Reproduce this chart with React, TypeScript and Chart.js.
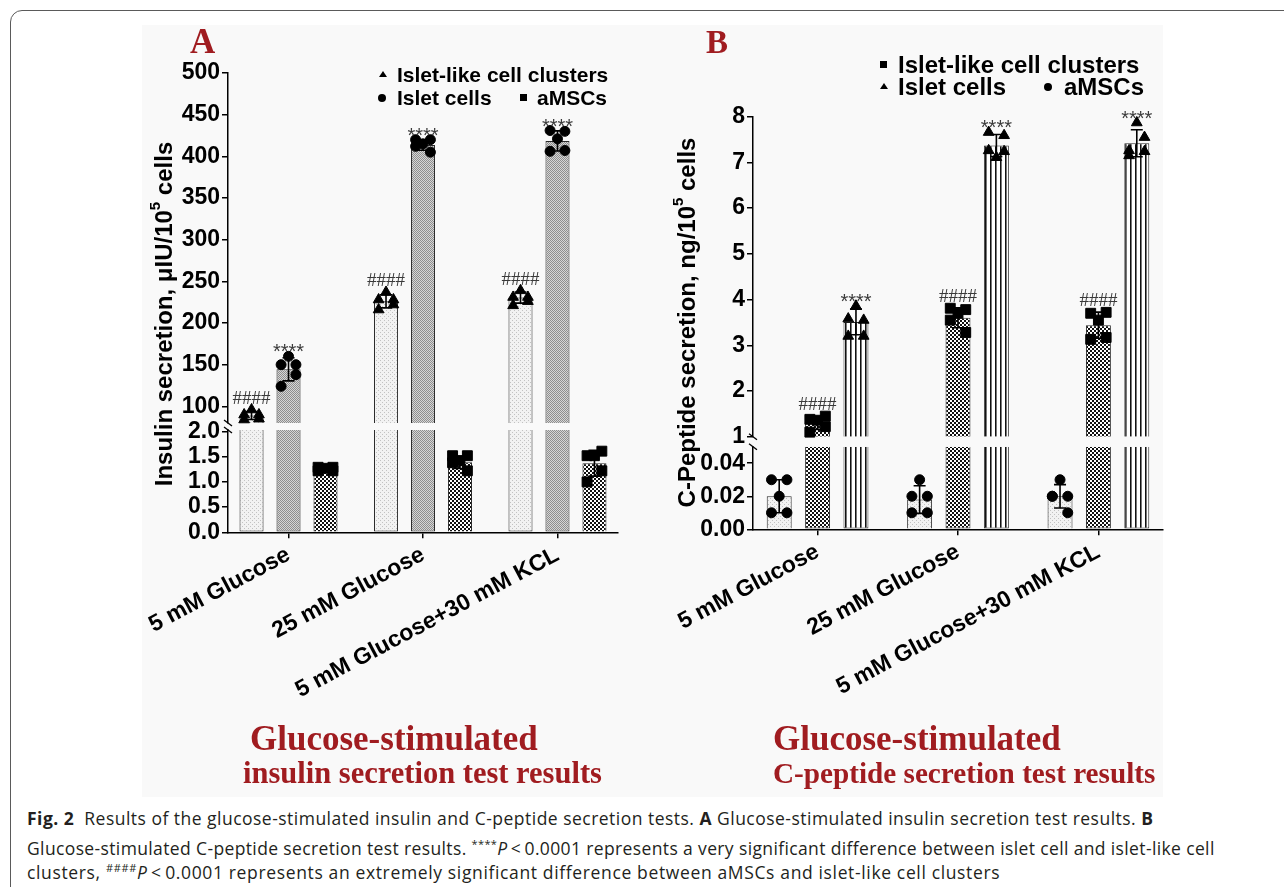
import React, { useEffect, useRef } from 'react';
import { Chart, registerables } from 'chart.js';

Chart.register(...registerables);

const SANS = '"Liberation Sans", Arial, sans-serif';
const SERIF = '"Liberation Serif", "Times New Roman", serif';
const RED = '#a01c20';
Chart.defaults.font.family = SANS;
Chart.defaults.color = '#000';

// ---------------- shared ----------------
const CATEGORIES = ['5 mM Glucose', '25 mM Glucose', '5 mM Glucose+30 mM KCL'];

// ---------------- Panel A: insulin secretion (μIU/10^5 cells) ----------------
const A_ISLET_LIKE_MEAN = [89, 226, 230.5];
const A_ISLET_LIKE_PTS = [
  [90, 90, 96, 84, 85],
  [228, 228, 237, 216, 222],
  [231, 231, 239, 221, 226],
];
const A_ISLET_MEAN = [144.4, 413.5, 418.5];
const A_ISLET_PTS = [
  [150, 150, 160, 124, 138],
  [420, 420, 415, 412, 405],
  [431, 430, 421, 406, 407],
];
const A_AMSC_MEAN = [1.26, 1.39, 1.37];
const A_AMSC_PTS = [
  [1.29, 1.29, 1.27, 1.22, 1.22],
  [1.52, 1.52, 1.42, 1.38, 1.22],
  [1.52, 1.61, 1.52, 1.0, 1.22],
];
const A_HI_RANGE = [80, 500];
const A_LO_RANGE = [0, 2.03];
const A_HI_TICKS = [100, 150, 200, 250, 300, 350, 400, 450, 500];
const A_LO_TICKS = [0, 0.5, 1.0, 1.5, 2.0];

// ---------------- Panel B: C-peptide secretion (ng/10^5 cells) ----------------
const B_AMSC_MEAN = [0.02, 0.018, 0.02];
const B_AMSC_PTS = [
  [0.03, 0.03, 0.02, 0.01, 0.01],
  [0.02, 0.02, 0.03, 0.01, 0.01],
  [0.02, 0.02, 0.03, 0.02, 0.01],
];
const B_ISLET_LIKE_MEAN = [1.3, 3.6, 3.44];
const B_ISLET_LIKE_PTS = [
  [1.38, 1.45, 1.36, 1.1, 1.22],
  [3.81, 3.78, 3.7, 3.55, 3.28],
  [3.7, 3.72, 3.55, 3.13, 3.17],
];
const B_ISLET_MEAN = [3.51, 7.37, 7.42];
const B_ISLET_PTS = [
  [3.58, 3.55, 3.86, 3.2, 3.2],
  [7.66, 7.59, 7.11, 7.26, 7.24],
  [7.26, 7.24, 7.87, 7.15, 7.55],
];
const B_HI_RANGE = [1, 8];
const B_LO_RANGE = [0, 0.05];
const B_HI_TICKS = [1, 2, 3, 4, 5, 6, 7, 8];
const B_LO_TICKS = [0, 0.02, 0.04];

// horizontal spread pattern of replicate dots (style)
const JITTER = [-1, 1, 0, -1, 1];

type Series = {
  name: string;
  means: number[];
  pts: number[][];
  pattern: string;
  marker: string;
  mark: string;
};

type Layout = {
  W: number; H: number; padL: number; padT: number; padR: number;
  yW: number; xH: number; hiW: number; gapW: number; loW: number;
  xMin: number; xMax: number; catPct: number; barPct: number;
  titleX: number; titleY: number; spread: number; cap: number;
};

type PanelCfg = {
  series: Series[];
  hiRange: number[]; loRange: number[];
  hiTicks: number[]; loTicks: number[]; loDecimals: number;
  titlePre: string; titleSup: string; titlePost: string;
  layout: Layout;
};

const PANEL_A: PanelCfg = {
  series: [
    { name: 'Islet-like cell clusters', means: A_ISLET_LIKE_MEAN, pts: A_ISLET_LIKE_PTS, pattern: 'dots', marker: 'triangle', mark: '####' },
    { name: 'Islet cells', means: A_ISLET_MEAN, pts: A_ISLET_PTS, pattern: 'mesh', marker: 'circle', mark: '****' },
    { name: 'aMSCs', means: A_AMSC_MEAN, pts: A_AMSC_PTS, pattern: 'checker', marker: 'rect', mark: '' },
  ],
  hiRange: A_HI_RANGE, loRange: A_LO_RANGE, hiTicks: A_HI_TICKS, loTicks: A_LO_TICKS, loDecimals: 1,
  titlePre: 'Insulin secretion, \u03bcIU/10', titleSup: '5', titlePost: ' cells',
  layout: {
    W: 500, H: 700, padL: 28, padT: 33, padR: 22, yW: 60, xH: 207.7,
    hiW: 350, gapW: 7, loW: 102.3, xMin: -0.45, xMax: 2.45, catPct: 0.825, barPct: 0.65,
    titleX: 25, titleY: 274, spread: 0.055, cap: 6,
  },
};

const PANEL_B: PanelCfg = {
  series: [
    { name: 'aMSCs', means: B_AMSC_MEAN, pts: B_AMSC_PTS, pattern: 'dots', marker: 'circle', mark: '' },
    { name: 'Islet-like cell clusters', means: B_ISLET_LIKE_MEAN, pts: B_ISLET_LIKE_PTS, pattern: 'checker', marker: 'rect', mark: '####' },
    { name: 'Islet cells', means: B_ISLET_MEAN, pts: B_ISLET_PTS, pattern: 'stripes', marker: 'triangle', mark: '****' },
  ],
  hiRange: B_HI_RANGE, loRange: B_LO_RANGE, hiTicks: B_HI_TICKS, loTicks: B_LO_TICKS, loDecimals: 2,
  titlePre: 'C-Peptide secretion, ng/10', titleSup: '5', titlePost: ' cells',
  layout: {
    W: 520, H: 700, padL: 33, padT: 76.7, padR: 17, yW: 60, xH: 210.7,
    hiW: 320, gapW: 10, loW: 82.6, xMin: -0.46, xMax: 2.46, catPct: 0.82, barPct: 0.65,
    titleX: 28, titleY: 282.5, spread: 0.055, cap: 6,
  },
};

function makePattern(kind: string): any {
  const c = document.createElement('canvas');
  let w = 4, h = 4;
  if (kind === 'stripes') { w = 5; h = 1; }
  if (kind === 'mesh') { w = 2; h = 2; }
  c.width = w; c.height = h;
  const g = c.getContext('2d') as CanvasRenderingContext2D;
  if (kind === 'dots') {
    g.fillStyle = '#f2f2f2'; g.fillRect(0, 0, 4, 4);
    g.fillStyle = '#c2c2c2'; g.fillRect(0, 0, 1, 1); g.fillRect(2, 2, 1, 1);
  } else if (kind === 'mesh') {
    g.fillStyle = '#d6d6d6'; g.fillRect(0, 0, 2, 2);
    g.fillStyle = '#8e8e8e'; g.fillRect(0, 0, 1, 1); g.fillRect(1, 1, 1, 1);
  } else if (kind === 'checker') {
    g.fillStyle = '#ffffff'; g.fillRect(0, 0, 4, 4);
    g.fillStyle = '#111111'; g.fillRect(0, 0, 2, 2); g.fillRect(2, 2, 2, 2);
  } else {
    g.fillStyle = '#ffffff'; g.fillRect(0, 0, 5, 1);
    g.fillStyle = '#111111'; g.fillRect(0, 0, 1, 1);
    g.fillStyle = '#777777'; g.fillRect(1, 0, 1, 1);
  }
  return g.createPattern(c, 'repeat');
}

function sampleSD(a: number[]): number {
  const m = a.reduce((s, v) => s + v, 0) / a.length;
  return Math.sqrt(a.reduce((s, v) => s + (v - m) * (v - m), 0) / (a.length - 1));
}

const MARKER_R: Record<string, number> = { circle: 5, triangle: 6.2, rect: 7 };

function Panel({ cfg, left, top }: { cfg: PanelCfg; left: number; top: number }) {
  const ref = useRef<HTMLCanvasElement>(null);
  const L = cfg.layout;
  useEffect(() => {
    const loMax = cfg.loRange[1];
    const hiMin = cfg.hiRange[0];
    const slot = (k: number) => ((k - 1) * L.catPct) / 3;
    const datasets: any[] = [];

    // replicate points (drawn on top: lower dataset index draws last)
    cfg.series.forEach((s, k) => {
      const hi: any[] = [];
      const lo: any[] = [];
      s.pts.forEach((arr, i) =>
        arr.forEach((v, j) => {
          const p = { x: i + slot(k) + JITTER[j % JITTER.length] * L.spread, y: v };
          (v > loMax ? hi : lo).push(p);
        })
      );
      const pairs: [any[], string][] = [[hi, 'yHi'], [lo, 'yLo']];
      pairs.forEach(([data, axis]) => {
        if (!data.length) return;
        datasets.push({
          type: 'scatter', label: s.name, data, xAxisID: 'x', yAxisID: axis,
          pointStyle: s.marker, pointRadius: MARKER_R[s.marker], pointHoverRadius: MARKER_R[s.marker],
          backgroundColor: '#000', borderColor: '#000', borderWidth: 1, showLine: false, clip: false,
        });
      });
    });

    // bars: lower segment + upper (floating) segment
    cfg.series.forEach((s, k) => {
      const bg = makePattern(s.pattern);
      const common = {
        type: 'bar', label: s.name, stack: 's' + k, xAxisID: 'x',
        backgroundColor: bg, borderColor: '#2a2a2a', borderWidth: 1,
        categoryPercentage: L.catPct, barPercentage: L.barPct,
      };
      datasets.push({
        ...common, yAxisID: 'yLo',
        data: s.means.map((m, i) => ({ x: i, y: Math.min(m, loMax) })),
        borderSkipped: s.means.map((m) => (m > loMax ? 'end' : 'start')),
      });
      datasets.push({
        ...common, yAxisID: 'yHi',
        data: s.means.map((m, i) => ({ x: i, y: m > hiMin ? [hiMin, m] : null })),
        borderSkipped: 'start',
      });
    });

    const scaleFor = (chart: any, v: number) => (v > loMax ? chart.scales.yHi : chart.scales.yLo);
    let errDone = false;
    const overlay = {
      id: 'overlay',
      beforeDatasetsDraw() { errDone = false; },
      beforeDatasetDraw(chart: any, args: any) {
        if (errDone || args.meta.type !== 'scatter') return;
        errDone = true;
        const ctx = chart.ctx;
        const xs = chart.scales.x;
        ctx.save();
        ctx.strokeStyle = '#000';
        ctx.lineWidth = 1.6;
        cfg.series.forEach((s, k) =>
          s.means.forEach((m, i) => {
            const d = sampleSD(s.pts[i]);
            const x = xs.getPixelForValue(i + slot(k));
            const sc = scaleFor(chart, m);
            const yt = sc.getPixelForValue(m + d);
            const yb = sc.getPixelForValue(m - d);
            ctx.beginPath();
            ctx.moveTo(x, yt); ctx.lineTo(x, yb);
            ctx.moveTo(x - L.cap, yt); ctx.lineTo(x + L.cap, yt);
            ctx.moveTo(x - L.cap, yb); ctx.lineTo(x + L.cap, yb);
            ctx.stroke();
          })
        );
        ctx.restore();
      },
      afterDatasetsDraw(chart: any) {
        const ctx = chart.ctx;
        const xs = chart.scales.x;
        ctx.save();
        cfg.series.forEach((s, k) => {
          if (!s.mark) return;
          s.means.forEach((m, i) => {
            const d = sampleSD(s.pts[i]);
            const mx = Math.max(...s.pts[i]);
            const topPx = Math.min(scaleFor(chart, mx).getPixelForValue(mx), scaleFor(chart, m).getPixelForValue(m + d));
            const x = xs.getPixelForValue(i + slot(k));
            const hash = s.mark.charAt(0) === '#';
            ctx.font = hash ? `19px ${SERIF}` : `20px ${SANS}`;
            ctx.fillStyle = '#3a3a3a';
            ctx.textAlign = 'center';
            ctx.textBaseline = 'alphabetic';
            ctx.fillText(s.mark, x, topPx + (hash ? -6 : 2));
          });
        });
        ctx.restore();
      },
      afterDraw(chart: any) {
        const ctx = chart.ctx;
        const x0 = chart.chartArea.left;
        const yh = chart.scales.yHi.bottom;
        const yl = chart.scales.yLo.top;
        ctx.save();
        ctx.strokeStyle = '#000';
        ctx.lineWidth = 1.3;
        [yh, yl].forEach((y: number) => {
          ctx.beginPath();
          ctx.moveTo(x0 - 4, y - 3);
          ctx.lineTo(x0 + 4, y + 3);
          ctx.stroke();
        });
        // axis title with superscript
        ctx.translate(L.titleX, L.titleY);
        ctx.rotate(-Math.PI / 2);
        ctx.fillStyle = '#000';
        ctx.textBaseline = 'middle';
        ctx.textAlign = 'left';
        const fMain = `bold 24px ${SANS}`;
        const fSup = `bold 15px ${SANS}`;
        ctx.font = fMain;
        const w1 = ctx.measureText(cfg.titlePre).width;
        const w3 = ctx.measureText(cfg.titlePost).width;
        ctx.font = fSup;
        const w2 = ctx.measureText(cfg.titleSup).width;
        let xx = -(w1 + w2 + w3) / 2;
        ctx.font = fMain;
        ctx.fillText(cfg.titlePre, xx, 0);
        xx += w1;
        ctx.font = fSup;
        ctx.fillText(cfg.titleSup, xx, -9);
        xx += w2;
        ctx.font = fMain;
        ctx.fillText(cfg.titlePost, xx, 0);
        ctx.restore();
      },
    };

    const tickFont = { size: 23, weight: 'bold' as const, family: SANS };
    const yBase = (weight: number, stackWeight: number) => ({
      type: 'linear', position: 'left', stack: 'v', stackWeight, weight, offset: false,
      afterFit: (s: any) => { s.width = L.yW; s.paddingTop = 0; s.paddingBottom = 0; },
    });
    const yAxisStyle = {
      grid: { display: true, drawOnChartArea: false, offset: false, tickLength: 6, color: '#000', lineWidth: 1.5 },
      border: { display: true, color: '#000', width: 1.5 },
    };

    const chart = new Chart(ref.current as HTMLCanvasElement, {
      type: 'bar',
      data: { datasets },
      plugins: [overlay as any],
      options: {
        animation: false,
        responsive: false,
        maintainAspectRatio: false,
        events: [],
        layout: { padding: { left: L.padL, top: L.padT, right: L.padR, bottom: 0 } },
        plugins: { legend: { display: false }, tooltip: { enabled: false } },
        scales: {
          x: {
            type: 'linear', position: 'bottom', min: L.xMin, max: L.xMax, offset: false,
            afterBuildTicks: (s: any) => { s.ticks = CATEGORIES.map((_, i) => ({ value: i })); },
            afterFit: (s: any) => { s.height = L.xH; s.paddingLeft = 0; s.paddingRight = 0; },
            ticks: {
              autoSkip: false, minRotation: 28, maxRotation: 28, padding: 3,
              font: { size: 23, weight: 'bold', family: SANS }, color: '#000',
              callback: (v: any) => CATEGORIES[Math.round(Number(v))] ?? '',
            },
            grid: { display: true, drawOnChartArea: false, offset: false, tickLength: 6, color: '#000', lineWidth: 1.5 },
            border: { display: true, color: '#000', width: 1.5 },
          },
          yLo: {
            ...yBase(1, L.loW), ...yAxisStyle,
            min: cfg.loRange[0], max: cfg.loRange[1],
            afterBuildTicks: (s: any) => { s.ticks = cfg.loTicks.map((v) => ({ value: v })); },
            ticks: { autoSkip: false, padding: 2, font: tickFont, color: '#000', callback: (v: any) => Number(v).toFixed(cfg.loDecimals) },
          },
          yGap: {
            ...yBase(2, L.gapW), min: 0, max: 1,
            ticks: { display: false }, grid: { display: false }, border: { display: false },
          },
          yHi: {
            ...yBase(3, L.hiW), ...yAxisStyle,
            min: cfg.hiRange[0], max: cfg.hiRange[1],
            afterBuildTicks: (s: any) => { s.ticks = cfg.hiTicks.map((v) => ({ value: v })); },
            ticks: { autoSkip: false, padding: 2, font: tickFont, color: '#000', callback: (v: any) => String(v) },
          },
        } as any,
      },
    } as any);
    return () => chart.destroy();
  }, [cfg]);
  return (
    <canvas
      ref={ref}
      width={L.W}
      height={L.H}
      style={{ position: 'absolute', left, top, width: L.W, height: L.H }}
    />
  );
}

function Marker({ kind, cx, cy, size }: { kind: string; cx: number; cy: number; size: number }) {
  if (kind === 'triangle') {
    return (
      <div style={{
        position: 'absolute', left: cx - size / 2, top: cy - size * 0.45, width: 0, height: 0,
        borderLeft: `${size / 2}px solid transparent`, borderRight: `${size / 2}px solid transparent`,
        borderBottom: `${size * 0.85}px solid #000`,
      }} />
    );
  }
  return (
    <div style={{
      position: 'absolute', left: cx - size / 2, top: cy - size / 2, width: size, height: size,
      background: '#000', borderRadius: kind === 'circle' ? '50%' : 0,
    }} />
  );
}

function Txt({ x, y, size, children, style }: any) {
  return (
    <div style={{ position: 'absolute', left: x, top: y, fontSize: size, lineHeight: `${size}px`, whiteSpace: 'nowrap', ...style }}>
      {children}
    </div>
  );
}

export default function App() {
  const legendA = { fontFamily: SANS, fontWeight: 'bold', color: '#000' };
  const titleStyle = { fontFamily: SERIF, fontWeight: 'bold', color: RED };
  const capStyle = { fontFamily: '"Open Sans", "Noto Sans", sans-serif', color: '#231f20' };
  return (
    <div style={{ position: 'fixed', left: 0, top: 0, width: 1284, height: 887, background: '#fff', overflow: 'hidden' }}>
      <div style={{ position: 'absolute', left: 10, top: 10, width: 1400, height: 1000, border: '1.5px solid #5a5a5a', borderRadius: 12, boxSizing: 'border-box' }} />
      <div style={{ position: 'absolute', left: 142, top: 25, width: 1021, height: 772, background: '#f9f9f9' }} />

      <Panel cfg={PANEL_A} left={140} top={40} />
      <Panel cfg={PANEL_B} left={660} top={40} />

      {/* panel letters */}
      <Txt x={190} y={24} size={35} style={titleStyle}>A</Txt>
      <Txt x={706} y={26} size={33} style={titleStyle}>B</Txt>

      {/* legend A */}
      <Marker kind="triangle" cx={383} cy={75} size={8} />
      <Txt x={397} y={64} size={21} style={legendA}>Islet-like cell clusters</Txt>
      <Marker kind="circle" cx={382} cy={98} size={8} />
      <Txt x={397} y={87} size={21} style={legendA}>Islet cells</Txt>
      <Marker kind="rect" cx={523} cy={97} size={7} />
      <Txt x={537} y={87} size={21} style={legendA}>aMSCs</Txt>

      {/* legend B */}
      <Marker kind="rect" cx={883} cy={64} size={7} />
      <Txt x={898} y={52.5} size={24} style={legendA}>Islet-like cell clusters</Txt>
      <Marker kind="triangle" cx={884} cy={87} size={8} />
      <Txt x={898} y={75} size={24} style={legendA}>Islet cells</Txt>
      <Marker kind="circle" cx={1048} cy={87} size={8} />
      <Txt x={1064} y={75} size={24} style={legendA}>aMSCs</Txt>

      {/* red panel titles */}
      <Txt x={250} y={721} size={35} style={titleStyle}>Glucose-stimulated</Txt>
      <Txt x={243} y={757.8} size={30.5} style={titleStyle}>insulin secretion test results</Txt>
      <Txt x={773} y={721} size={35} style={titleStyle}>Glucose-stimulated</Txt>
      <Txt x={773} y={758.8} size={29.2} style={titleStyle}>C-peptide secretion test results</Txt>

      {/* caption */}
      <Txt x={27} y={810} size={17.5} style={{ ...capStyle, letterSpacing: '0.48px' }}>
        <b>Fig. 2</b>&nbsp;&nbsp;Results of the glucose-stimulated insulin and C-peptide secretion tests. <b>A</b> Glucose-stimulated insulin secretion test results. <b>B</b>
      </Txt>
      <Txt x={27} y={834.5} size={17.5} style={{ ...capStyle, letterSpacing: '0.37px' }}>
        Glucose-stimulated C-peptide secretion test results. <sup style={{ fontSize: 11 }}>****</sup><i>P</i>&thinsp;&lt;&thinsp;0.0001 represents a very significant difference between islet cell and islet-like cell
      </Txt>
      <Txt x={27} y={859} size={17.5} style={{ ...capStyle, letterSpacing: '0.64px' }}>
        clusters, <sup style={{ fontSize: 11 }}>####</sup><i>P</i>&thinsp;&lt;&thinsp;0.0001 represents an extremely significant difference between aMSCs and islet-like cell clusters
      </Txt>
    </div>
  );
}
